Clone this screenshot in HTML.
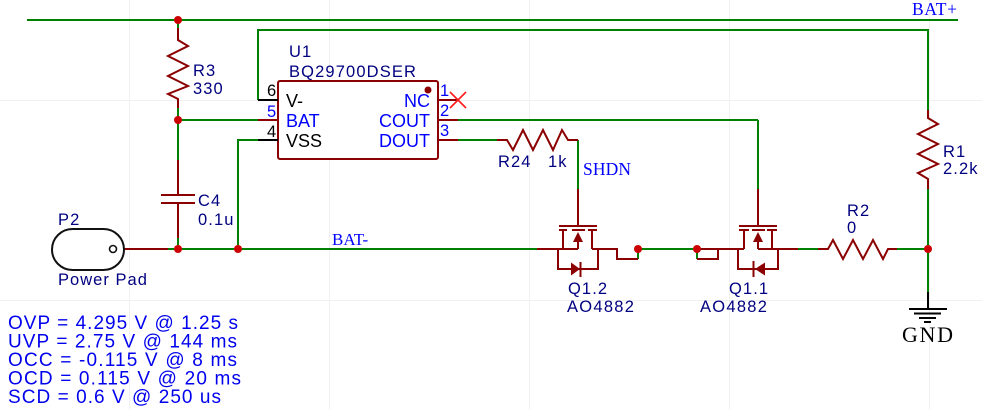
<!DOCTYPE html>
<html>
<head>
<meta charset="utf-8">
<style>
html,body{margin:0;padding:0;background:#fff;}
svg{display:block;}
.s{font-family:"Liberation Sans",sans-serif;}
.f{font-family:"Liberation Serif",serif;}
</style>
</head>
<body>
<svg width="982" height="409" viewBox="0 0 982 409" xmlns="http://www.w3.org/2000/svg">
<rect x="0" y="0" width="982" height="409" fill="#fff"/>
<!-- faint grid -->
<g stroke="#f0f0f0" stroke-width="1">
<line x1="129.5" y1="0" x2="129.5" y2="409"/>
<line x1="329.5" y1="0" x2="329.5" y2="409"/>
<line x1="529.5" y1="0" x2="529.5" y2="409"/>
<line x1="729.5" y1="0" x2="729.5" y2="409"/>
<line x1="929.5" y1="0" x2="929.5" y2="409"/>
<line x1="0" y1="100.5" x2="982" y2="100.5"/>
<line x1="0" y1="300.5" x2="982" y2="300.5"/>
</g>

<!-- green wires -->
<g stroke="#008000" stroke-width="2" fill="none">
<line x1="27" y1="20" x2="958" y2="20"/>
<polyline points="258,100 258,30 928,30 928,110"/>
<line x1="178" y1="20" x2="178" y2="28"/>
<line x1="178" y1="108" x2="178" y2="160"/>
<line x1="178" y1="120" x2="258" y2="120"/>
<polyline points="258,140 238,140 238,249"/>
<line x1="178" y1="238" x2="178" y2="249"/>
<line x1="168" y1="249" x2="537" y2="249"/>
<line x1="457" y1="120" x2="758" y2="120"/>
<line x1="758" y1="120" x2="758" y2="189"/>
<line x1="457" y1="140" x2="497" y2="140"/>
<line x1="578" y1="140" x2="578" y2="189"/>
<line x1="638" y1="259" x2="638" y2="249"/>
<line x1="638" y1="249" x2="697" y2="249"/>
<line x1="697" y1="259" x2="697" y2="249"/>
<line x1="798" y1="249" x2="818" y2="249"/>
<line x1="897" y1="249" x2="928" y2="249"/>
<line x1="928" y1="189" x2="928" y2="292"/>
</g>

<!-- dark red components -->
<g stroke="#8b0000" stroke-width="2" fill="none" stroke-linejoin="miter">
<!-- R3 -->
<polyline points="178,28 178,40 188,46 168,56 188,66 168,76 188,86 168,94 178,99 178,108"/>
<!-- C4 -->
<line x1="178" y1="160" x2="178" y2="195"/>
<line x1="161" y1="195" x2="195" y2="195"/>
<line x1="161" y1="203" x2="195" y2="203"/>
<line x1="178" y1="203" x2="178" y2="238"/>
<!-- P2 lead -->
<line x1="124" y1="249" x2="168" y2="249"/>
<!-- U1 body -->
<rect x="278" y="81" width="160" height="78" rx="2" ry="2" fill="#fff"/>
<line x1="258" y1="120" x2="278" y2="120"/>
<line x1="438" y1="100" x2="458" y2="100"/>
<line x1="438" y1="120" x2="458" y2="120"/>
<line x1="438" y1="140" x2="458" y2="140"/>
<!-- R24 -->
<polyline points="497,140 507,140 513,150 523,130 533,150 543,130 553,150 562,130 568,140 578,140"/>
<!-- R1 -->
<polyline points="928,110 928,118 938,124 918,134 938,144 918,154 938,164 918,173 928,179 928,189"/>
<!-- R2 -->
<polyline points="818,249 828,249 833,240 843,259 853,240 863,259 873,240 883,259 888,249 897,249"/>

<!-- Q1.2 -->
<line x1="578" y1="189" x2="578" y2="226"/>
<line x1="559" y1="226" x2="597" y2="226"/>
<line x1="559" y1="230" x2="567" y2="230"/>
<line x1="572" y1="230" x2="585" y2="230"/>
<line x1="588" y1="230" x2="597" y2="230"/>
<line x1="563" y1="230" x2="563" y2="249"/>
<line x1="592" y1="230" x2="592" y2="249"/>
<line x1="578" y1="241" x2="578" y2="249"/>
<line x1="537" y1="249" x2="578" y2="249"/>
<polyline points="592,249 617,249 617,259 638,259"/>
<polyline points="558,249 558,269 598,269 598,249"/>
<line x1="580.5" y1="262" x2="580.5" y2="277"/>

<!-- Q1.1 -->
<line x1="758" y1="189" x2="758" y2="226"/>
<line x1="739" y1="226" x2="777" y2="226"/>
<line x1="739" y1="230" x2="749" y2="230"/>
<line x1="752" y1="230" x2="765" y2="230"/>
<line x1="767" y1="230" x2="777" y2="230"/>
<line x1="744" y1="230" x2="744" y2="249"/>
<line x1="772" y1="230" x2="772" y2="249"/>
<line x1="758" y1="241" x2="758" y2="249"/>
<line x1="758" y1="249" x2="798" y2="249"/>
<line x1="697" y1="249" x2="744" y2="249"/>
<polyline points="718,249 718,259 697,259"/>
<polyline points="738,249 738,269 778,269 778,249"/>
<line x1="753.5" y1="261" x2="753.5" y2="277"/>
</g>
<g fill="#8b0000">
<polygon points="578,232 573,242 583,242"/>
<polygon points="571,262.5 571,275.5 580,269"/>
<polygon points="758,232 753,242 763,242"/>
<polygon points="765,262.5 765,275.5 755,269"/>
<circle cx="428" cy="90" r="3.5"/>
</g>

<!-- black pins -->
<g stroke="#000" stroke-width="2">
<line x1="258" y1="100" x2="278" y2="100"/>
<line x1="258" y1="140" x2="278" y2="140"/>
<line x1="928" y1="292" x2="928" y2="309"/>
<line x1="909" y1="309" x2="947" y2="309"/>
<line x1="914" y1="313.5" x2="941" y2="313.5"/>
<line x1="919" y1="318" x2="936" y2="318"/>
<line x1="924" y1="322" x2="931" y2="322"/>
</g>

<!-- P2 pad -->
<rect x="52" y="229" width="72" height="41" rx="20.5" ry="20.5" fill="#fff" stroke="#111" stroke-width="2"/>
<circle cx="113" cy="249" r="3.5" fill="#fff" stroke="#111" stroke-width="1.6"/>

<!-- NC X -->
<g stroke="#ff1a1a" stroke-width="1.6">
<line x1="450" y1="92" x2="466" y2="108"/>
<line x1="466" y1="92" x2="450" y2="108"/>
</g>

<!-- junction dots -->
<g fill="#cc0000">
<circle cx="178" cy="20" r="4"/>
<circle cx="178" cy="120" r="4"/>
<circle cx="178" cy="249" r="4"/>
<circle cx="238" cy="249" r="4"/>
<circle cx="638" cy="249" r="4"/>
<circle cx="697" cy="249" r="4"/>
<circle cx="928" cy="249" r="4"/>
</g>

<!-- navy labels -->
<g class="s" fill="#000080" font-size="16.5" letter-spacing="1.1">
<text x="289" y="57">U1</text>
<text x="289" y="77" textLength="128" lengthAdjust="spacing">BQ29700DSER</text>
<text x="193" y="76">R3</text>
<text x="193" y="94">330</text>
<text x="198" y="206">C4</text>
<text x="198" y="225">0.1u</text>
<text x="58" y="225">P2</text>
<text x="58" y="285" textLength="90" lengthAdjust="spacing">Power Pad</text>
<text x="498" y="167">R24</text>
<text x="548" y="167">1k</text>
<text x="847" y="216">R2</text>
<text x="847" y="233">0</text>
<text x="943" y="157">R1</text>
<text x="943" y="174">2.2k</text>
<text x="568" y="294">Q1.2</text>
<text x="567" y="312" textLength="68" lengthAdjust="spacing">AO4882</text>
<text x="729" y="294">Q1.1</text>
<text x="700" y="312" textLength="68" lengthAdjust="spacing">AO4882</text>
</g>

<!-- pin numbers -->
<g class="s" font-size="16.5">
<text x="267" y="96" fill="#000">6</text>
<text x="267" y="117" fill="#0000ff">5</text>
<text x="267" y="137" fill="#000">4</text>
<text x="440" y="96" fill="#0000ff">1</text>
<text x="440" y="116" fill="#0000ff">2</text>
<text x="440" y="136" fill="#0000ff">3</text>
</g>

<!-- pin names -->
<g class="s" font-size="18">
<text x="286" y="107" fill="#000">V-</text>
<text x="286" y="127" fill="#0000ff">BAT</text>
<text x="286" y="147" fill="#000">VSS</text>
<text x="430" y="107" fill="#0000ff" text-anchor="end">NC</text>
<text x="430" y="127" fill="#0000ff" text-anchor="end">COUT</text>
<text x="430" y="147" fill="#0000ff" text-anchor="end">DOUT</text>
</g>

<!-- net labels -->
<g class="f" fill="#0000ff">
<text x="912" y="15" font-size="17.5" textLength="45" lengthAdjust="spacing">BAT+</text>
<text x="332" y="245" font-size="17">BAT-</text>
<text x="583" y="175" font-size="17.5" textLength="48" lengthAdjust="spacing">SHDN</text>
</g>
<text class="f" x="902" y="342" font-size="22" fill="#000" textLength="51" lengthAdjust="spacing">GND</text>

<!-- bottom notes -->
<g class="s" fill="#0000ee" font-size="19">
<text x="8" y="329" textLength="230" lengthAdjust="spacing">OVP = 4.295 V @ 1.25 s</text>
<text x="8" y="347.5" textLength="229" lengthAdjust="spacing">UVP = 2.75 V @ 144 ms</text>
<text x="8" y="366" textLength="229" lengthAdjust="spacing">OCC = -0.115 V @ 8 ms</text>
<text x="8" y="384.5" textLength="233" lengthAdjust="spacing">OCD = 0.115 V @ 20 ms</text>
<text x="8" y="403" textLength="213" lengthAdjust="spacing">SCD = 0.6 V @ 250 us</text>
</g>
</svg>
</body>
</html>
